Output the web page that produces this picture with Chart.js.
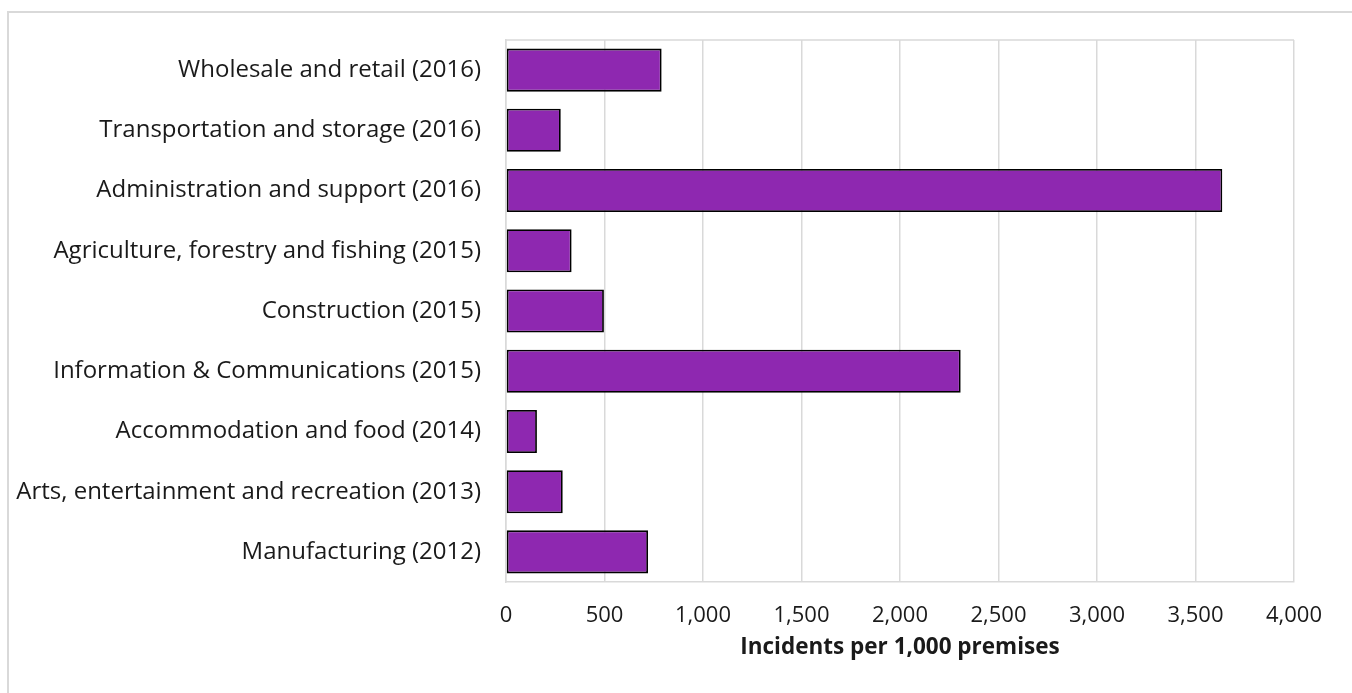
<!DOCTYPE html>
<html>
<head>
<meta charset="utf-8">
<script src="https://cdn.jsdelivr.net/npm/chart.js@4/dist/chart.umd.min.js"></script>
<style>
  html, body { margin: 0; padding: 0; background: #fff; }
  #wrap { position: relative; width: 1352px; height: 693px; }
  #frame {
    position: absolute; left: 7px; top: 11px; right: -10px; bottom: -10px;
    border-left: 2px solid #d9d9d9; border-top: 2px solid #d9d9d9;
  }
  canvas { position: absolute; left: 0; top: 0; }
</style>
</head>
<body>
<div id="wrap">
  <div id="frame"></div>
  <canvas id="chart" width="1352" height="693"></canvas>
</div>
<script>
// Chart data
const sectors = [
  'Wholesale and retail (2016)',
  'Transportation and storage (2016)',
  'Administration and support (2016)',
  'Agriculture, forestry and fishing (2015)',
  'Construction (2015)',
  'Information & Communications (2015)',
  'Accommodation and food (2014)',
  'Arts, entertainment and recreation (2013)',
  'Manufacturing (2012)'
];
const incidents = [790, 278, 3636, 333, 497, 2308, 157, 288, 721];
const axisMin = 0;
const axisMax = 4000;
const axisStep = 500;
const axisTitle = 'Incidents per 1,000 premises';

const fontFamily = '"Open Sans", sans-serif';
const textColor = '#1a1a1a';
const gridColor = '#d9d9d9';

// Top edge of plot area (Excel draws a box round it)
const plotBorder = {
  id: 'plotBorder',
  afterDraw(chart) {
    const { ctx, chartArea } = chart;
    ctx.save();
    ctx.strokeStyle = gridColor;
    ctx.lineWidth = 1.5;
    ctx.beginPath();
    ctx.moveTo(chartArea.left, chartArea.top);
    ctx.lineTo(chartArea.right, chartArea.top);
    ctx.stroke();
    ctx.restore();
  }
};

const ctx = document.getElementById('chart').getContext('2d');
new Chart(ctx, {
  type: 'bar',
  data: {
    labels: sectors,
    datasets: [{
      label: axisTitle,
      data: incidents,
      backgroundColor: '#8E28B0',
      borderColor: '#000000',
      borderWidth: 1.8,
      borderSkipped: false,
      barPercentage: 0.715,
      categoryPercentage: 1
    }]
  },
  options: {
    indexAxis: 'y',
    responsive: false,
    animation: false,
    layout: {
      padding: { top: 40, right: 58, left: 0, bottom: 0 }
    },
    scales: {
      x: {
        min: axisMin,
        max: axisMax,
        ticks: {
          stepSize: axisStep,
          padding: 21,
          color: textColor,
          font: { family: fontFamily, size: 22 },
          maxRotation: 0,
          callback: v => v.toLocaleString('en-US')
        },
        grid: { color: gridColor, lineWidth: 1.5, drawTicks: false },
        border: { display: true, color: gridColor, width: 1.5 },
        title: {
          display: true,
          text: axisTitle,
          color: textColor,
          font: { family: fontFamily, size: 22.5, weight: 'bold' },
          padding: { top: 0, bottom: 32 }
        },
        afterFit(scale) { scale.height = 111; }
      },
      y: {
        ticks: {
          padding: 25,
          color: textColor,
          font: { family: fontFamily, size: 24 }
        },
        grid: { display: false, drawTicks: false },
        border: { display: true, color: gridColor, width: 1.5 },
        afterFit(scale) { scale.width = 506; }
      }
    },
    plugins: {
      legend: { display: false },
      tooltip: { enabled: false }
    }
  },
  plugins: [plotBorder]
});
</script>
</body>
</html>
